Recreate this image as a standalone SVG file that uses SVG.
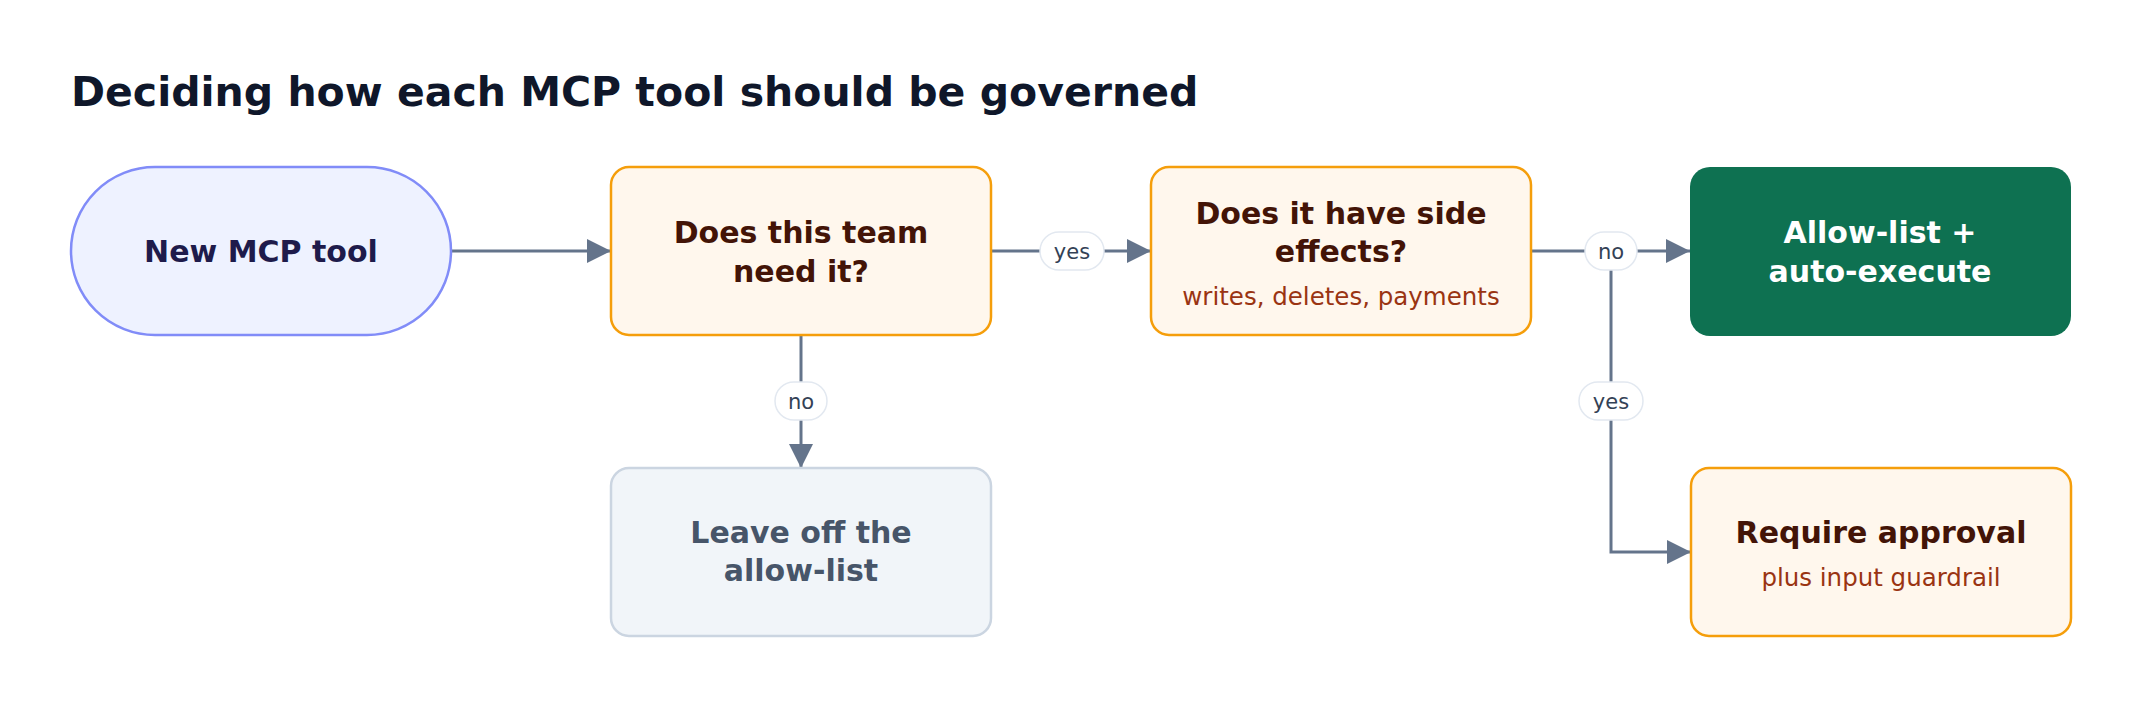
<svg xmlns="http://www.w3.org/2000/svg" width="2144" height="708" viewBox="0 0 2144 708">
<style>
text{font-family:"DejaVu Sans","Noto Sans",sans-serif;text-anchor:middle;dominant-baseline:central}
.t{font-weight:bold;font-size:30px}
.s{font-size:24.5px;fill:#9a3412}
.dec rect{fill:#fff7ed;stroke:#f59e0b;stroke-width:2.5}
.dec .t{fill:#431407}
.c{fill:none;stroke:#64748b;stroke-width:3}
.lb rect{fill:#fff;stroke:#e2e8f0;stroke-width:1.5}
.lb text{font-size:21px;fill:#334155}
</style>
<defs>
<marker id="m" viewBox="0 0 10 10" refX="10" refY="5" markerWidth="24" markerHeight="24" markerUnits="userSpaceOnUse" orient="auto"><path d="M0,0L10,5L0,10z" fill="#64748b"/></marker>
</defs>
<rect width="2144" height="708" fill="#fff"/>
<text x="71" y="92" style="text-anchor:start;font-weight:bold;font-size:41px;fill:#0f172a">Deciding how each MCP tool should be governed</text>
<g id="connectors">
<path class="c" d="M451,251H611" marker-end="url(#m)"/>
<path class="c" d="M801,335V468" marker-end="url(#m)"/>
<path class="c" d="M991,251H1151" marker-end="url(#m)"/>
<path class="c" d="M1531,251H1690" marker-end="url(#m)"/>
<path class="c" d="M1611,251V552H1691" marker-end="url(#m)"/>
<g class="lb"><rect x="1040" y="232" width="64" height="38" rx="19"/><text x="1072" y="252">yes</text></g>
<g class="lb"><rect x="1585" y="232" width="52" height="38" rx="19"/><text x="1611" y="252">no</text></g>
<g class="lb"><rect x="775" y="382" width="52" height="38" rx="19"/><text x="801" y="402">no</text></g>
<g class="lb"><rect x="1579" y="382" width="64" height="38" rx="19"/><text x="1611" y="402">yes</text></g>
</g>
<g id="start"><rect x="71" y="167" width="380" height="168" rx="84" fill="#eef2ff" stroke="#818cf8" stroke-width="2.5"/><text class="t" x="261" y="251" fill="#1e1b4b">New MCP tool</text></g>
<g id="need" class="dec"><rect x="611" y="167" width="380" height="168" rx="18"/><text class="t" x="801" y="232">Does this team</text><text class="t" x="801" y="271">need it?</text></g>
<g id="side" class="dec"><rect x="1151" y="167" width="380" height="168" rx="18"/><text class="t" x="1341" y="213">Does it have side</text><text class="t" x="1341" y="251">effects?</text><text class="s" x="1341" y="296">writes, deletes, payments</text></g>
<g id="auto"><rect x="1690" y="167" width="381" height="169" rx="20" fill="#0e7151"/><text class="t" x="1880" y="232" fill="#fff">Allow-list +</text><text class="t" x="1880" y="271" fill="#fff">auto-execute</text></g>
<g id="approval" class="dec"><rect x="1691" y="468" width="380" height="168" rx="18"/><text class="t" x="1881" y="532">Require approval</text><text class="s" x="1881" y="577">plus input guardrail</text></g>
<g id="leave"><rect x="611" y="468" width="380" height="168" rx="18" fill="#f1f5f9" stroke="#cbd5e1" stroke-width="2.5"/><text class="t" x="801" y="532" fill="#475569">Leave off the</text><text class="t" x="801" y="570" fill="#475569">allow-list</text></g>
</svg>
